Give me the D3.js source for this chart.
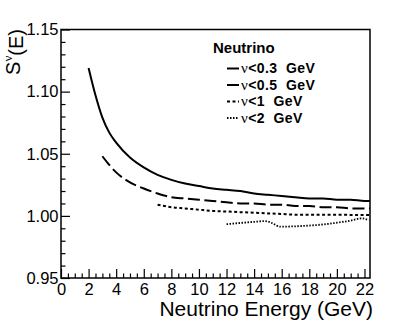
<!DOCTYPE html>
<html>
<head>
<meta charset="utf-8">
<script src="https://cdn.jsdelivr.net/npm/d3@7"></script>
<style>
  body { margin: 0; background: #fff; }
  svg { display: block; font-family: "Liberation Sans", Arial, Helvetica, sans-serif; }
  .legend text { white-space: pre; }
</style>
</head>
<body>
<svg id="chart"></svg>
<script>
// curve values, S(E) vs neutrino energy (GeV)
const energyCut03 = [2, 2.5, 3, 3.5, 4, 5, 6, 7, 8, 9, 10, 11, 12, 13, 14, 15, 16, 17, 18, 19, 20, 21, 22, 22.4];
const sCut03 = [1.119, 1.097, 1.079, 1.067, 1.059, 1.047, 1.039, 1.033, 1.029, 1.026, 1.024, 1.022, 1.021, 1.020,
  1.018, 1.017, 1.016, 1.015, 1.014, 1.014, 1.013, 1.013, 1.012, 1.012];

const energyCut05 = [3, 3.5, 4, 5, 6, 7, 8, 9, 10, 11, 12, 13, 14, 15, 16, 17, 18, 19, 20, 21, 22, 22.4];
const sCut05 = [1.048, 1.041, 1.035, 1.027, 1.022, 1.018, 1.015, 1.014, 1.013, 1.012, 1.011, 1.010, 1.010,
  1.009, 1.009, 1.008, 1.008, 1.007, 1.007, 1.006, 1.006, 1.006];

const energyCut1 = [7, 8, 9, 10, 11, 12, 13, 14, 15, 16, 17, 18, 19, 20, 21, 22, 22.4];
const sCut1 = [1.009, 1.007, 1.006, 1.005, 1.004, 1.0035, 1.003, 1.0025, 1.002, 1.0015, 1.001, 1.001, 1.001,
  1.001, 1.0008, 1.0007, 1.0007];

const energyCut2 = [12, 13, 14, 14.8, 15.3, 15.9, 17, 18, 19, 20, 21, 21.8, 22.3];
const sCut2 = [0.9933, 0.9943, 0.9952, 0.9958, 0.9942, 0.9913, 0.9916, 0.9922, 0.9931, 0.9945, 0.9962, 0.998, 0.9966];

const legendLabels = ['0.3', '0.5', '1', '2'];
const legendTitle = 'Neutrino';

const xTicks = [0, 2, 4, 6, 8, 10, 12, 14, 16, 18, 20, 22];
const yTicks = [0.95, 1.00, 1.05, 1.10, 1.15];

const width = 407;
const height = 328;
const margin = { top: 29.5, right: 37, bottom: 50, left: 61 };

const series = [
  { label: legendLabels[0], xs: energyCut03, ys: sCut03, dash: null, width: 2 },
  { label: legendLabels[1], xs: energyCut05, ys: sCut05, dash: '12,4.5', width: 2 },
  { label: legendLabels[2], xs: energyCut1, ys: sCut1, dash: '3,2.5', width: 2 },
  { label: legendLabels[3], xs: energyCut2, ys: sCut2, dash: '1.5,1.5', width: 1.8 }
];

const svg = d3.select('#chart')
  .attr('width', width)
  .attr('height', height);

const x = d3.scaleLinear()
  .domain([0, 22.4])
  .range([margin.left, width - margin.right]);

const y = d3.scaleLinear()
  .domain([0.95, 1.15])
  .range([height - margin.bottom, margin.top]);

const xMinor = d3.range(0, 22.4, 0.5).filter(v => !xTicks.includes(v));
const yMinor = d3.range(0.95, 1.1501, 0.01).map(v => +v.toFixed(2)).filter(v => !yTicks.some(t => Math.abs(t - v) < 1e-6));

const axisStyle = g => {
  g.select('.domain').remove();
  g.selectAll('line').attr('stroke', '#000').attr('stroke-width', 1.2);
};

// bottom axis
svg.append('g')
  .attr('transform', `translate(0,${ y.range()[0] })`)
  .call(d3.axisBottom(x).tickValues(xMinor).tickSize(-4.5).tickFormat(''))
  .call(axisStyle);

svg.append('g')
  .attr('transform', `translate(0,${ y.range()[0] })`)
  .call(d3.axisBottom(x).tickValues(xTicks).tickSize(-9).tickPadding(5).tickFormat(d3.format('d')))
  .call(axisStyle)
  .call(g => g.selectAll('text')
    .attr('fill', '#000')
    .style('font-size', '16.5px')
    .style('font-family', '"Liberation Sans", Arial, sans-serif'));

// left axis
svg.append('g')
  .attr('transform', `translate(${ x.range()[0] },0)`)
  .call(d3.axisLeft(y).tickValues(yMinor).tickSize(-4.5).tickFormat(''))
  .call(axisStyle);

svg.append('g')
  .attr('transform', `translate(${ x.range()[0] },0)`)
  .call(d3.axisLeft(y).tickValues(yTicks).tickSize(-9).tickPadding(2.5).tickFormat(d3.format('.2f')))
  .call(axisStyle)
  .call(g => g.selectAll('text')
    .attr('fill', '#000')
    .style('font-size', '16.5px')
    .style('font-family', '"Liberation Sans", Arial, sans-serif'));

// frame
svg.append('rect')
  .attr('x', x.range()[0])
  .attr('y', y.range()[1])
  .attr('width', x.range()[1] - x.range()[0])
  .attr('height', y.range()[0] - y.range()[1])
  .attr('fill', 'none')
  .attr('stroke', '#000')
  .attr('stroke-width', 1.5);

// curves
const line = d3.line()
  .x(d => x(d[0]))
  .y(d => y(d[1]))
  .curve(d3.curveMonotoneX);

svg.append('g')
  .selectAll('path')
  .data(series)
  .join('path')
  .attr('d', d => line(d.xs.map((e, i) => [e, d.ys[i]])))
  .attr('fill', 'none')
  .attr('stroke', '#000')
  .attr('stroke-width', d => d.width)
  .attr('stroke-dasharray', d => d.dash);

// axis titles
svg.append('text')
  .attr('x', 373)
  .attr('y', 316)
  .attr('text-anchor', 'end')
  .style('font-size', '21px')
  .text('Neutrino Energy (GeV)');

const yTitle = svg.append('text')
  .attr('transform', 'translate(19.5,29) rotate(-90)')
  .attr('text-anchor', 'end')
  .style('font-size', '20px');

yTitle.append('tspan').text('S');
yTitle.append('tspan')
  .attr('dy', '-0.55em')
  .style('font-size', '13px')
  .style('font-family', '"Liberation Serif", "Times New Roman", serif')
  .text('ν');
yTitle.append('tspan').attr('dy', '0.55em').text('(E)');

// legend
const legend = svg.append('g').attr('class', 'legend');

legend.append('text')
  .attr('x', 213)
  .attr('y', 53)
  .style('font-size', '15px')
  .style('font-weight', 'bold')
  .text(legendTitle);

const rows = legend.selectAll('g.row')
  .data(series)
  .join('g')
  .attr('class', 'row')
  .attr('transform', (d, i) => `translate(0,${ 73 + i * 16.5 })`);

rows.append('line')
  .attr('x1', 227)
  .attr('x2', 239)
  .attr('y1', -4.5)
  .attr('y2', -4.5)
  .attr('stroke', '#000')
  .attr('stroke-width', d => d.width)
  .attr('stroke-dasharray', d => d.dash);

const rowText = rows.append('text')
  .attr('x', 241)
  .attr('y', 0)
  .style('font-size', '14px')
  .style('letter-spacing', '0.4px')
  .style('font-weight', 'bold');

rowText.append('tspan')
  .style('font-family', '"Liberation Serif", "Times New Roman", serif')
  .style('font-weight', 'normal')
  .style('font-size', '15px')
  .text('ν');

rowText.append('tspan').text(d => `<${ d.label }  GeV`);
</script>
</body>
</html>
